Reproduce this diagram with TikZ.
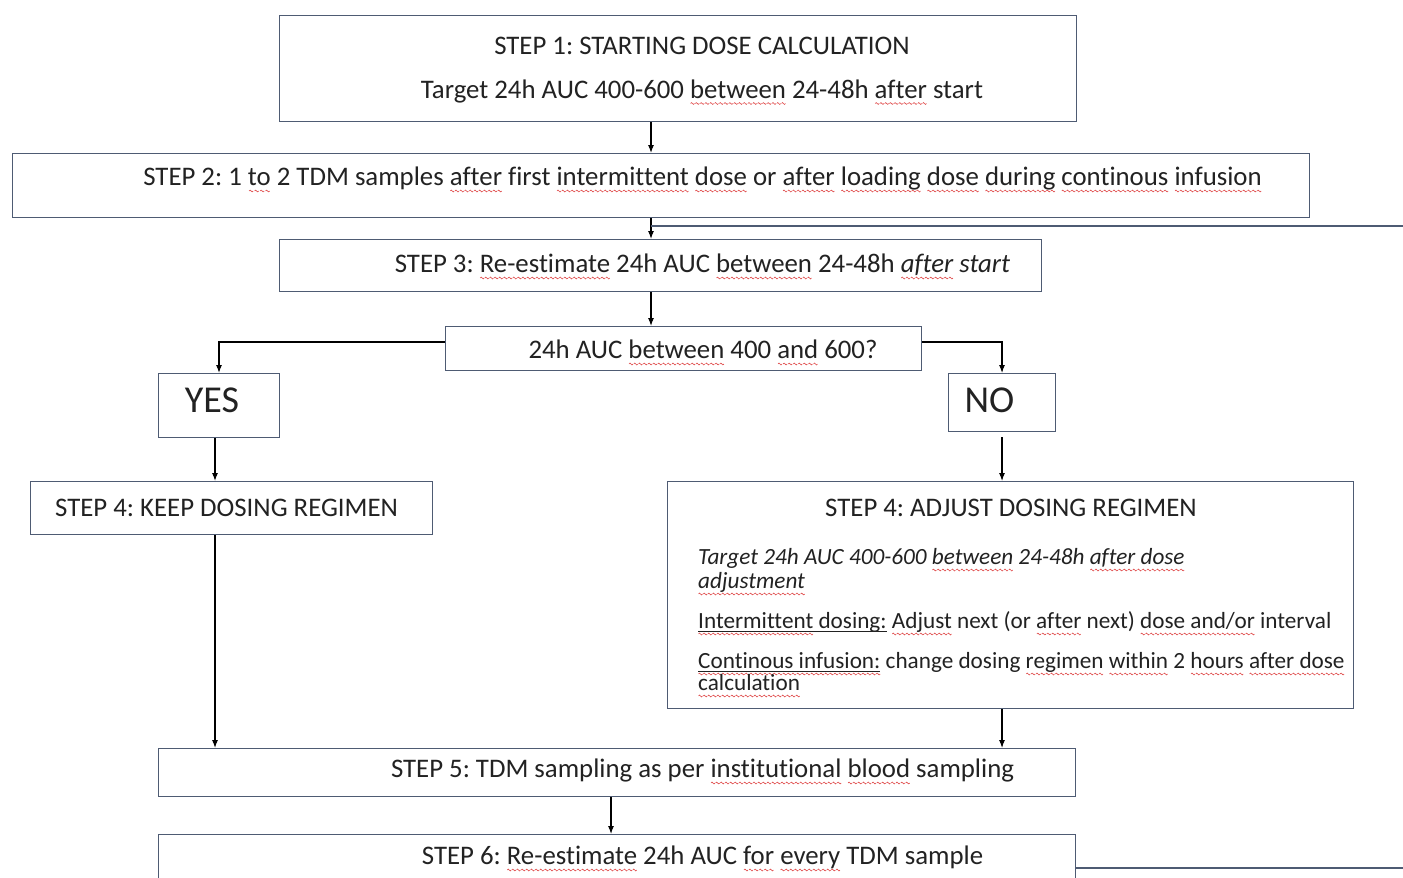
\documentclass[tikz,border=0pt]{standalone}
\usepackage{fontspec}
\setmainfont{Carlito}[Ligatures={NoCommon}]
\usetikzlibrary{arrows.meta}
\definecolor{boxc}{HTML}{4E5B73}
\definecolor{txt}{HTML}{222222}
\definecolor{sqc}{HTML}{E04848}
\newsavebox\sqword
\newcommand\sqmark{\raisebox{-5.5pt}{\tikz[x=1pt,y=1pt,baseline=0pt]{\draw[sqc,line width=0.6pt] (0,0) .. controls (0.8,1.2) and (1.2,1.2) .. (2,0) .. controls (2.8,-1.2) and (3.2,-1.2) .. (4,0);}}}
\newcommand\sq[1]{\sbox\sqword{#1}\rlap{\hbox to \wd\sqword{\xleaders\hbox{\sqmark}\hfill}}\usebox\sqword}
\newcommand\bul[1]{\sbox\sqword{#1}\rlap{\textcolor{txt}{\rule[-3.2pt]{\wd\sqword}{1.1pt}}}\usebox\sqword}
\frenchspacing
\begin{document}
\begin{tikzpicture}[x=1pt,y=-1pt,
  box/.style={draw=boxc,line width=1.4pt,inner sep=0pt,anchor=north west},
  arr/.style={-{Latex[length=8pt,width=6pt]},line width=1.1pt,black},
  fbline/.style={draw=boxc,line width=1.4pt},
  tx/.style={inner sep=0pt,text=txt,font=\fontsize{26.8}{30}\selectfont},
  sm/.style={inner sep=0pt,text=txt,font=\fontsize{23.2}{27}\selectfont,anchor=base west},
  big/.style={inner sep=0pt,text=txt,font=\fontsize{38}{42}\selectfont,anchor=base}]
\fill[white] (0,0) rectangle (1403,878);
\useasboundingbox (0,0) rectangle (1403,878);
\clip (0,0) rectangle (1403,878);

% boxes
\node[box,minimum width=797pt,minimum height=106pt] (b1) at (279,15) {};
\node[box,minimum width=1297pt,minimum height=64pt] (b2) at (12,153) {};
\node[box,minimum width=762pt,minimum height=52pt] (b3) at (279,239) {};
\node[box,minimum width=476pt,minimum height=44pt] (bd) at (445,326) {};
\node[box,minimum width=121pt,minimum height=64pt] (byes) at (158,373) {};
\node[box,minimum width=107pt,minimum height=58pt] (bno) at (948,373) {};
\node[box,minimum width=402pt,minimum height=53pt] (b4k) at (30,481) {};
\node[box,minimum width=686pt,minimum height=227pt] (b4a) at (667,481) {};
\node[box,minimum width=917pt,minimum height=48pt] (b5) at (158,748) {};
\node[box,minimum width=917pt,minimum height=100pt] (b6) at (158,834) {};

% texts
\node[tx,anchor=base] (t1a) at (702,54) {STEP 1: STARTING DOSE CALCULATION};
\node[tx,anchor=base] (t1b) at (702,98) {Target 24h AUC 400-600 \sq{between} 24-48h \sq{after} start};
\node[tx,anchor=base] (t2) at (702.5,185.5) {STEP 2: 1 \sq{to} 2 TDM samples \sq{after} first \sq{intermittent} \sq{dose} or \sq{after} \sq{loading} \sq{dose} \sq{during} \sq{continous} \sq{infusion}};
\node[tx,anchor=base] (t3) at (702.5,272.5) {STEP 3: \sq{Re-estimate} 24h AUC \sq{between} 24-48h \textit{\sq{after} start}};
\node[tx,anchor=base] (td) at (703,358.5) {24h AUC \sq{between} 400 \sq{and} 600?};
\node[big] (tyes) at (212,412) {YES};
\node[big] (tno) at (989.5,412) {NO};
\node[tx,anchor=base west] (t4k) at (55,516.5) {STEP 4: KEEP DOSING REGIMEN};
\node[tx,anchor=base] (t4a) at (1011,516.5) {STEP 4: ADJUST DOSING REGIMEN};
\node[sm] (l1) at (698,564.5) {\textit{Target 24h AUC 400-600 \sq{between} 24-48h \sq{after dose}}};
\node[sm] (l2) at (698,588.5) {\textit{\sq{adjustment}}};
\node[sm] (l3) at (698,628.5) {\rlap{\sq{\phantom{Intermittent}}}\bul{Intermittent dosing:} \sq{Adjust} next (or \sq{after} next) \sq{dose and/or} interval};
\node[sm] (l4) at (698,668.5) {\rlap{\sq{\phantom{Continous infusion:}}}\bul{Continous infusion:} change dosing \sq{regimen} \sq{within} 2 \sq{hours} \sq{after dose}};
\node[sm] (l5) at (698,690.5) {\sq{calculation}};
\node[tx,anchor=base] (t5) at (702.5,777.5) {STEP 5: TDM sampling as per \sq{institutional} \sq{blood} sampling};
\node[tx,anchor=base] (t6) at (702.5,864.5) {STEP 6: \sq{Re-estimate} 24h AUC \sq{for} \sq{every} TDM sample};

% connectors
\draw[arr] (651,0 |- b1.south) -- (651,0 |- b2.north);
\draw[arr] (651,0 |- b2.south) -- (651,0 |- b3.north);
\coordinate (fb1) at (1403,226);
\draw[fbline] (fb1) -- (651,226);
\draw[arr] (651,0 |- b3.south) -- (651,0 |- bd.north);
\draw[arr] (bd.west |- 0,342) -| (219,0 |- byes.north);
\draw[arr] (bd.east |- 0,342) -| (1002,0 |- bno.north);
\draw[arr] (215,0 |- byes.south) -- (215,0 |- b4k.north);
\draw[arr] (1002,437) -- (1002,0 |- b4a.north);
\draw[arr] (215,0 |- b4k.south) -- (215,0 |- b5.north);
\draw[arr] (1002,0 |- b4a.south) -- (1002,0 |- b5.north);
\draw[arr] (611,0 |- b5.south) -- (611,0 |- b6.north);
\coordinate (fb2) at (1403,868);
\draw[fbline] (b6.east |- 0,868) -- (fb2);
\end{tikzpicture}
\end{document}
